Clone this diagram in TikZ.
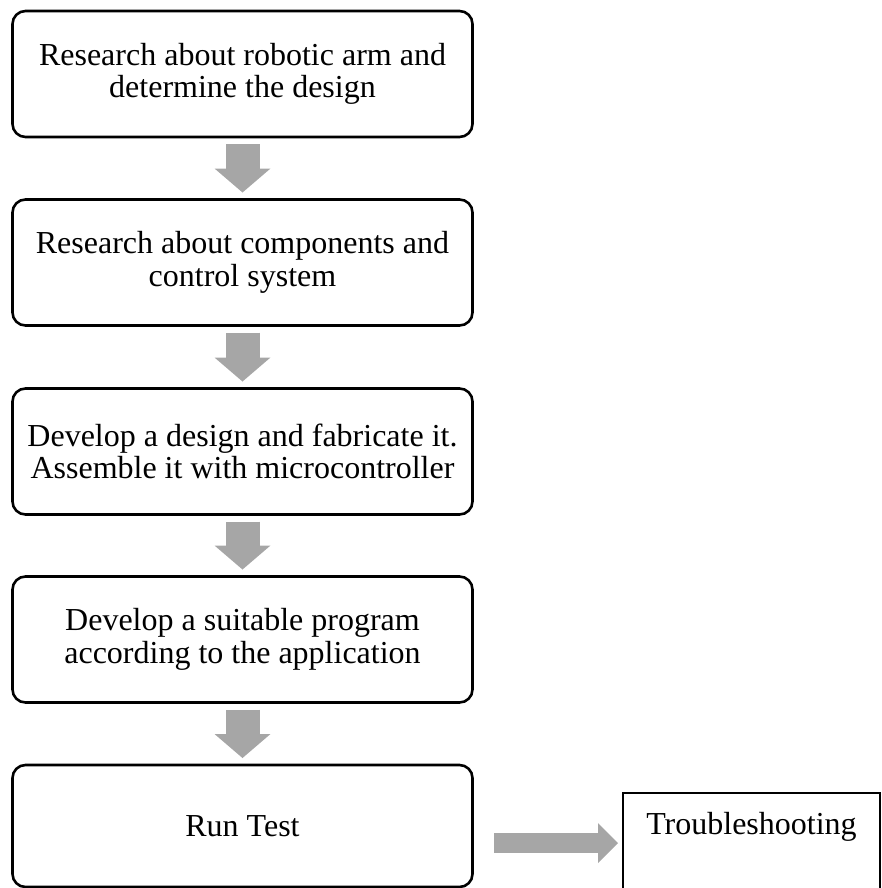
\documentclass[tikz,border=0pt]{standalone}
\usepackage{fontspec}
\setmainfont{Liberation Serif}
\usetikzlibrary{arrows.meta}
\definecolor{arrowgray}{HTML}{A6A6A6}
\begin{document}
\begin{tikzpicture}[x=1pt,y=-1pt,
  stepbox/.style={draw, line width=2.6pt, rounded corners=13pt, minimum width=460pt,
    minimum height=126pt, align=center, font=\fontsize{32}{32.5}\selectfont,
    inner sep=0pt, outer sep=0pt},
  flow/.style={draw=arrowgray, line width=34pt,
    -{Triangle[length=24pt,width=56pt,line width=0pt]}, shorten <=7pt, shorten >=7pt},
  sideflow/.style={draw=arrowgray, line width=20pt,
    -{Triangle[length=20pt,width=40pt,line width=0pt]}, shorten <=21.5pt, shorten >=5pt},
  plainbox/.style={draw, line width=1.3pt, minimum width=257pt, inner sep=0pt, outer sep=0pt,
    text height=41pt, text depth=70pt, font=\fontsize{32}{32.5}\selectfont}
]
\useasboundingbox (0,0) rectangle (881,888);
\clip (0,0) rectangle (881,888);

\node[stepbox] (b1) at (242.5,74) {Research about robotic arm and\\determine the design};
\node[stepbox] (b2) at (242.5,262.5) {Research about components and\\control system};
\node[stepbox] (b3) at (242.5,451.5) {Develop a design and fabricate it.\\Assemble it with microcontroller};
\node[stepbox] (b4) at (242.5,639.5) {Develop a suitable program\\according to the application};
\node[stepbox, minimum height=122pt] (b5) at (242.5,826) {Run Test};
\node[plainbox, anchor=north west] (ts) at (623,793) {Troubleshooting};

\coordinate (ay) at (0,843);

\draw[flow] (b1) -- (b2);
\draw[flow] (b2) -- (b3);
\draw[flow] (b3) -- (b4);
\draw[flow] (b4) -- (b5);
\draw[sideflow] (b5.east |- ay) -- (ts.west |- ay);
\end{tikzpicture}
\end{document}
